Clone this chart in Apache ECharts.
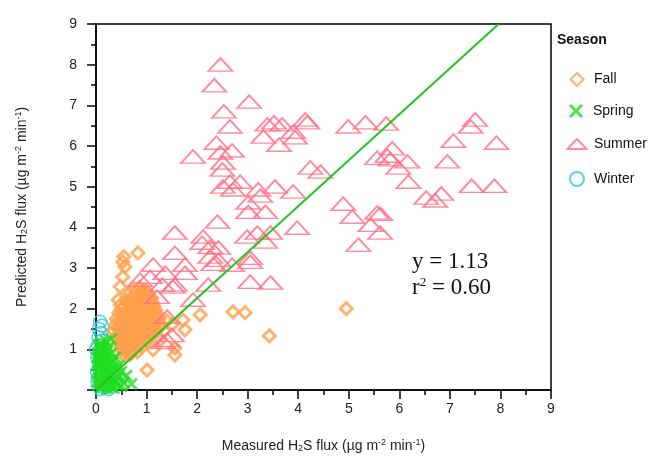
<!DOCTYPE html>
<html>
<head>
<meta charset="utf-8">
<script src="https://cdn.jsdelivr.net/npm/echarts@6/dist/echarts.min.js"></script>
<style>
  html, body { margin: 0; padding: 0; background: #fff; }
  #chart { width: 655px; height: 460px; }
</style>
</head>
<body>
<div id="chart"></div>
<script>
// values: [measured, predicted]
const fallPoints = [
  [0.75, 2.5], [0.86, 2.52], [0.95, 2.47],
  [0.8, 2.43], [0.9, 2.42], [1.0, 2.44],
  [0.65, 2.36], [0.8, 2.33], [0.9, 2.38], [1.0, 2.34], [1.06, 2.3],
  [0.7, 2.28], [0.85, 2.27], [0.95, 2.29], [1.1, 2.26],
  [0.6, 2.2], [0.71, 2.22], [0.84, 2.18], [0.96, 2.21], [1.1, 2.17],
  [0.65, 2.13], [0.78, 2.12], [0.9, 2.14], [1.0, 2.11], [1.12, 2.13],
  [0.55, 2.05], [0.68, 2.07], [0.78, 2.02], [0.92, 2.06], [1.04, 2.03], [1.15, 2.06],
  [0.5, 1.98], [0.62, 1.97], [0.74, 1.99], [0.86, 1.98], [0.98, 1.96], [1.1, 1.99], [1.18, 1.97],
  [0.45, 1.9], [0.6, 1.92], [0.72, 1.88], [0.85, 1.91], [0.98, 1.89], [1.1, 1.92], [1.2, 1.88],
  [0.5, 1.83], [0.65, 1.82], [0.78, 1.84], [0.92, 1.83], [1.05, 1.81], [1.16, 1.84],
  [0.4, 1.75], [0.55, 1.77], [0.66, 1.73], [0.8, 1.76], [0.9, 1.74], [1.02, 1.77], [1.15, 1.73], [1.25, 1.76],
  [0.45, 1.68], [0.6, 1.67], [0.72, 1.69], [0.85, 1.68], [0.95, 1.66], [1.08, 1.69], [1.2, 1.67],
  [0.38, 1.6], [0.5, 1.62], [0.62, 1.58], [0.75, 1.61], [0.88, 1.59], [1.0, 1.62], [1.12, 1.58], [1.3, 1.6],
  [0.42, 1.53], [0.56, 1.52], [0.68, 1.54], [0.8, 1.53], [0.92, 1.51], [1.05, 1.54], [1.18, 1.52],
  [0.35, 1.45], [0.48, 1.47], [0.6, 1.43], [0.72, 1.46], [0.85, 1.44], [0.95, 1.47], [1.08, 1.43], [1.2, 1.46],
  [0.45, 1.38], [0.58, 1.37], [0.7, 1.39], [0.82, 1.38], [0.96, 1.36], [1.08, 1.38],
  [0.4, 1.3], [0.52, 1.32], [0.65, 1.28], [0.78, 1.31], [0.9, 1.29], [1.02, 1.32],
  [0.5, 1.22], [0.62, 1.23], [0.75, 1.21], [0.88, 1.22], [1.0, 1.2],
  [0.45, 1.15], [0.58, 1.17], [0.7, 1.13], [0.82, 1.16],
  [0.52, 1.08], [0.65, 1.07], [0.78, 1.09], [0.9, 1.06],
  [0.5, 1.0], [0.62, 1.02], [0.74, 0.98],
  [0.58, 0.93], [0.7, 0.92], [0.82, 0.94],
  [0.55, 0.85], [0.67, 0.87],
  [1.4, 1.7], [1.5, 1.6], [1.35, 1.45],
  [0.83, 3.37], [0.55, 3.28], [0.53, 3.15], [0.57, 3.03], [0.53, 2.78],
  [0.48, 2.54], [0.44, 2.22], [0.48, 2.09], [0.55, 1.65], [0.5, 1.23],
  [1.11, 1.53], [1.13, 0.99], [1.56, 0.86], [1.01, 0.49], [1.27, 1.23],
  [1.72, 1.72], [2.06, 1.85], [2.71, 1.92], [2.95, 1.9], [1.76, 1.48],
  [3.43, 1.33], [4.95, 2.0], [1.56, 1.03]
];
const springPoints = [
  [0.05, 1.1], [0.1, 1.15], [0.2, 1.2], [0.3, 1.25], [0.15, 1.0], [0.05, 0.9],
  [0.12, 0.85], [0.22, 0.95], [0.3, 0.9], [0.08, 0.75], [0.18, 0.7], [0.28, 0.75],
  [0.38, 0.8], [0.04, 0.6], [0.14, 0.55], [0.24, 0.6], [0.34, 0.55], [0.45, 0.6],
  [0.06, 0.45], [0.16, 0.4], [0.26, 0.45], [0.36, 0.4], [0.5, 0.45], [0.05, 0.3],
  [0.15, 0.25], [0.25, 0.3], [0.35, 0.25], [0.45, 0.3], [0.6, 0.35], [0.08, 0.15],
  [0.18, 0.12], [0.3, 0.15], [0.42, 0.12], [0.55, 0.18], [0.7, 0.15], [0.1, 0.05],
  [0.22, 0.05], [0.35, 0.05], [0.02, 0.2], [0.02, 0.8], [0.1, 0.65], [0.2, 0.5],
  [0.4, 0.2], [0.5, 0.1], [0.12, 0.35], [0.28, 0.62], [0.2, 0.82], [0.08, 1.0],
  [0.1, 0.95], [0.25, 1.05], [0.15, 0.78], [0.33, 0.68], [0.07, 0.52], [0.21, 0.38],
  [0.3, 0.35], [0.1, 0.22], [0.26, 0.2], [0.4, 0.5], [0.14, 0.1], [0.3, 0.08],
  [0.05, 0.68], [0.18, 0.92], [0.12, 1.08]
];
const summerPoints = [
  [2.46, 8.0], [2.34, 7.49], [3.03, 7.09], [2.53, 6.85], [2.65, 6.48], [3.39, 6.53],
  [3.52, 6.58], [3.68, 6.53], [3.31, 6.23], [3.62, 6.03], [3.9, 6.35], [3.94, 6.21],
  [4.14, 6.65], [4.18, 6.58], [4.99, 6.48], [5.33, 6.58], [5.74, 6.55], [2.38, 6.08],
  [2.69, 5.89], [2.46, 5.84], [1.92, 5.74], [2.51, 5.59], [2.5, 5.42], [4.24, 5.47],
  [4.44, 5.37], [2.65, 5.12], [2.85, 5.12], [2.51, 5.0], [2.71, 4.93], [3.21, 4.93],
  [3.25, 4.78], [3.54, 5.0], [3.9, 4.88], [3.01, 4.61], [3.35, 4.38], [3.01, 4.38],
  [4.89, 4.58], [5.07, 4.26], [5.56, 4.36], [5.43, 4.06], [2.4, 4.14], [3.98, 3.99],
  [3.19, 3.87], [2.99, 3.77], [2.12, 3.77], [5.56, 5.71], [7.5, 6.65], [7.41, 6.48],
  [7.07, 6.13], [7.92, 6.08], [5.86, 5.94], [5.76, 5.76], [5.82, 5.67], [6.16, 5.62],
  [5.98, 5.47], [6.95, 5.62], [6.18, 5.12], [7.43, 5.02], [7.88, 5.02], [6.53, 4.73],
  [6.83, 4.83], [6.71, 4.66], [5.62, 4.33], [5.62, 3.87], [1.56, 3.87], [2.1, 3.62],
  [2.26, 3.52], [2.42, 3.5], [3.45, 3.87], [3.35, 3.65], [5.19, 3.57], [1.56, 3.37],
  [2.26, 3.28], [2.42, 3.2], [2.32, 3.1], [2.69, 3.08], [3.05, 3.25], [3.05, 3.15],
  [1.76, 3.08], [1.76, 2.88], [3.05, 2.66], [3.45, 2.64], [2.22, 2.59], [1.52, 2.54],
  [1.92, 2.22], [1.5, 1.35], [1.13, 3.08], [0.87, 2.71], [1.07, 2.78], [1.31, 2.59],
  [1.56, 2.59], [1.21, 2.29], [1.41, 1.8], [1.41, 1.23], [1.37, 2.88], [1.33, 1.18]
];
const winterPoints = [
  [0.08, 1.68], [0.12, 1.58], [0.06, 1.5], [0.1, 1.4], [0.05, 1.3], [0.12, 1.22],
  [0.04, 1.1], [0.08, 0.95], [0.03, 0.8], [0.06, 0.6], [0.02, 0.45], [0.05, 0.3],
  [0.1, 0.15], [0.15, 0.05], [0.08, 0.02], [0.2, 0.08], [0.03, 0.2], [0.25, 0.02],
  [0.12, 0.7], [0.0, 1.0]
];
const slope = 1.13;
const fitLine = [[0, 0], [9 / slope, 9]];
const seasons = ["Fall", "Spring", "Summer", "Winter"];

const font = "Liberation Sans, Arial, sans-serif";
const crossPath =
  "path://M1.5,0 L5,3.5 L8.5,0 L10,1.5 L6.5,5 L10,8.5 L8.5,10 L5,6.5 L1.5,10 L0,8.5 L3.5,5 L0,1.5 Z";

const chart = echarts.init(document.getElementById("chart"));

const unitRich = {
  sup: { fontSize: 9, fontFamily: font, color: "#222", padding: [0, 0, 7, 0] },
  sub: { fontSize: 9, fontFamily: font, color: "#222", padding: [6, 0, 0, 0] },
};

// one legend per season so each icon keeps its own size
const legendIcons = [
  { icon: "diamond", w: 13, h: 13, top: 67 },
  { icon: crossPath, w: 14, h: 14, top: 99 },
  { icon: "triangle", w: 19, h: 10, top: 132 },
  { icon: "circle", w: 14, h: 14, top: 166 },
];
const legends = seasons.map((name, i) => {
  const s = legendIcons[i];
  return {
    orient: "vertical",
    left: 571 - s.w / 2,
    top: s.top,
    itemWidth: s.w,
    itemHeight: s.h,
    selectedMode: false,
    textStyle: {
      fontFamily: font, fontSize: 14, color: "#111",
      padding: [0, 0, 0, 12 - s.w / 2],
    },
    data: [{ name: name, icon: s.icon }],
  };
});

chart.setOption({
  animation: false,
  grid: {
    left: 96, right: 104, top: 24, bottom: 70,
    show: true, borderColor: "#000", borderWidth: 1.5,
  },
  legend: legends,
  graphic: [
    {
      type: "text", left: 557, top: 33,
      style: { text: "Season", font: "bold 14px " + font, fill: "#111" },
    },
    {
      type: "text", left: 412, top: 250,
      style: { text: "y = 1.13", font: "23px Liberation Serif, serif", fill: "#111" },
    },
    {
      type: "text", left: 412, top: 276,
      style: {
        text: "r{sup|2} = 0.60", font: "23px Liberation Serif, serif", fill: "#111",
        rich: { sup: { fontSize: 13, fontFamily: "Liberation Serif", padding: [0, 0, 11, 0] } },
      },
    },
  ],
  xAxis: {
    type: "value",
    min: 0, max: 9, interval: 1,
    name: "Measured H{sub|2}S flux (µg m{sup|-2} min{sup|-1})",
    nameLocation: "middle",
    nameGap: 48,
    nameTextStyle: { fontFamily: font, fontSize: 14, color: "#222", rich: unitRich },
    axisLine: { lineStyle: { color: "#000", width: 1.5 } },
    axisTick: { inside: false, length: 9, lineStyle: { color: "#000", width: 1.5 } },
    minorTick: { show: true, splitNumber: 2, length: 5, lineStyle: { color: "#000", width: 1.5 } },
    axisLabel: { fontFamily: font, fontSize: 14, color: "#222", margin: 12 },
    splitLine: { show: false },
  },
  yAxis: {
    type: "value",
    min: 0, max: 9, interval: 1,
    name: "Predicted H{sub|2}S flux (µg m{sup|-2} min{sup|-1})",
    nameLocation: "middle",
    nameRotate: 90,
    nameGap: 66,
    nameTextStyle: { fontFamily: font, fontSize: 14, color: "#222", rich: unitRich },
    axisLine: { lineStyle: { color: "#000", width: 1.5 } },
    axisTick: { inside: false, length: 9, lineStyle: { color: "#000", width: 1.5 } },
    minorTick: { show: true, splitNumber: 2, length: 5, lineStyle: { color: "#000", width: 1.5 } },
    axisLabel: {
      fontFamily: font, fontSize: 14, color: "#222", margin: 19,
      formatter: (v) => (v === 0 ? "" : String(v)),
    },
    splitLine: { show: false },
  },
  series: [
    {
      name: "Winter", type: "scatter", z: 2, data: winterPoints,
      symbol: "circle", symbolSize: 13,
      itemStyle: { color: "rgba(0,0,0,0)", borderColor: "#2ccbd9", borderWidth: 1.5 },
    },
    {
      name: "Fall", type: "scatter", z: 3, data: fallPoints,
      symbol: "diamond", symbolSize: 12,
      itemStyle: { color: "rgba(0,0,0,0)", borderColor: "#ffa04d", borderWidth: 3 },
    },
    {
      name: "Summer", type: "scatter", z: 4, data: summerPoints,
      symbol: "triangle", symbolSize: [24, 13],
      itemStyle: { color: "rgba(0,0,0,0)", borderColor: "#ff6f86", borderWidth: 1.8 },
    },
    {
      name: "Spring", type: "scatter", z: 5, data: springPoints,
      symbol: crossPath, symbolSize: 13,
      itemStyle: { color: "#22dd22" },
    },
    {
      name: "fit", type: "line", z: 6, data: fitLine,
      symbol: "none", silent: true,
      lineStyle: { color: "#22c322", width: 2 },
    },
  ],
});
</script>
</body>
</html>
